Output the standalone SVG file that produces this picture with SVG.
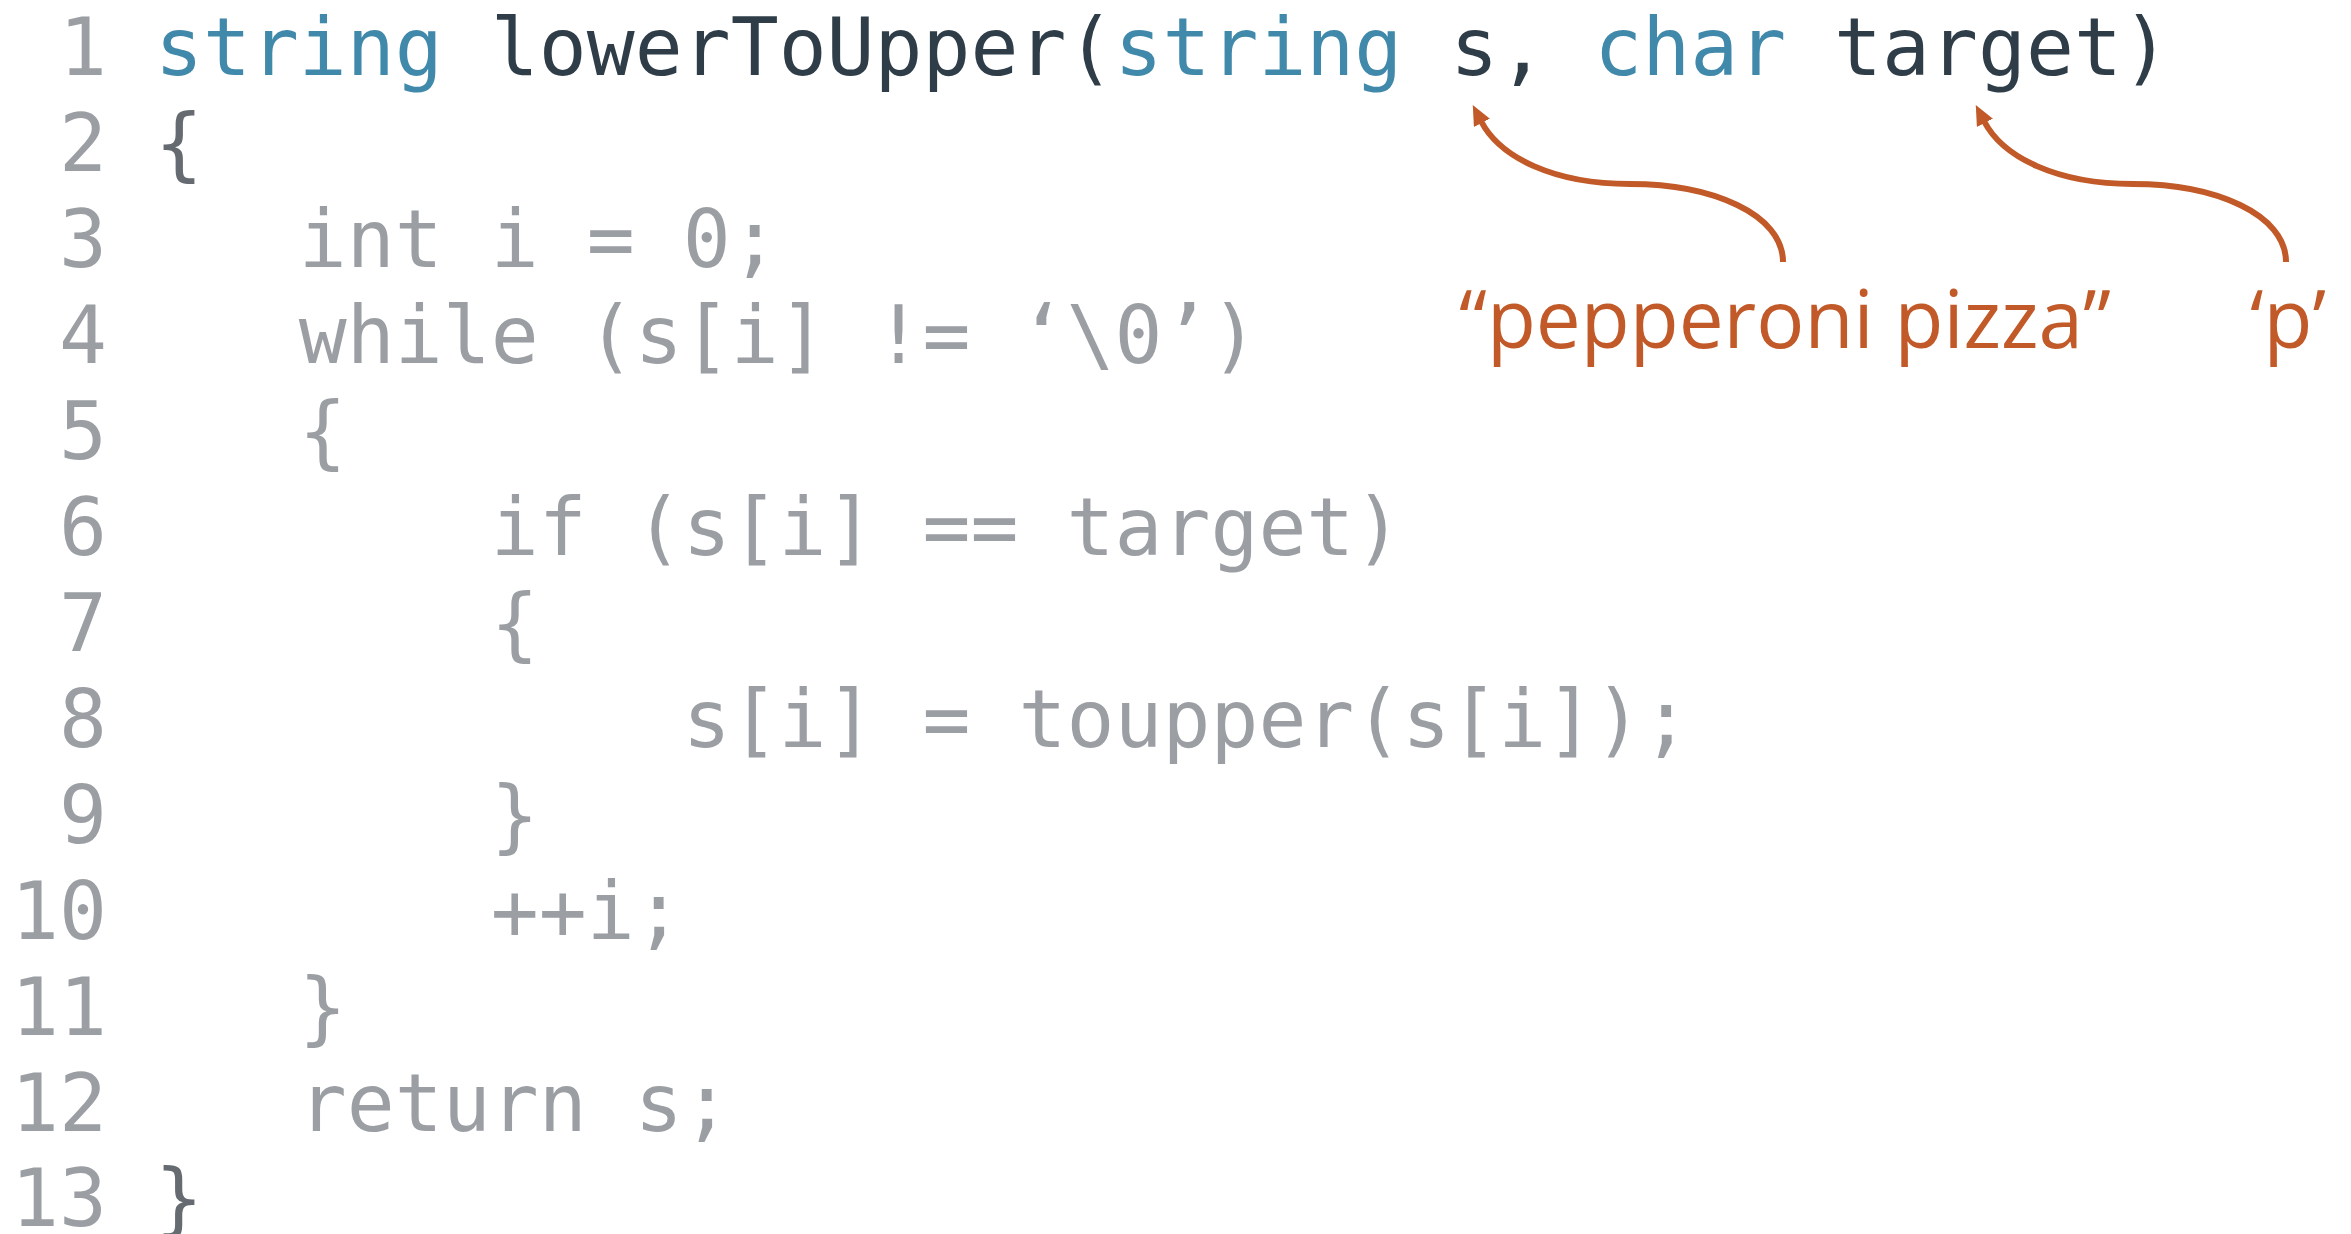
<svg xmlns="http://www.w3.org/2000/svg" width="2351" height="1234" viewBox="0 0 2351 1234">
<style>
.code{font-family:"DejaVu Sans Mono",monospace;font-size:79.7px;fill:#9b9fa4;white-space:pre}
.num{fill:#9b9fa4}
.kw{fill:#4189ab}
.dk{fill:#2f3d48}
.br{fill:#656b71}
.lbl{font-family:"Open Sans","Noto Sans",sans-serif;font-size:80px;fill:#c15a28}
.conn{fill:none;stroke:#c15a28;stroke-width:6;stroke-linecap:butt}
</style>
<defs>
<marker id="ah" viewBox="0 0 20 18" refX="2" refY="9" markerWidth="20" markerHeight="18" markerUnits="userSpaceOnUse" orient="auto">
<path d="M0,0 L20,9 L0,18 z" fill="#c15a28"/>
</marker>
</defs>
<rect width="2351" height="1234" fill="#ffffff"/>
<g id="code">
<g id="line1"><text class="code" x="11" y="75" xml:space="preserve"><tspan class="num"> 1 </tspan><tspan class="kw">string</tspan><tspan class="dk"> lowerToUpper(</tspan><tspan class="kw">string</tspan><tspan class="dk"> s, </tspan><tspan class="kw">char</tspan><tspan class="dk"> target)</tspan></text></g>
<g id="line2"><text class="code" x="11" y="171" xml:space="preserve"><tspan class="num"> 2 </tspan><tspan class="br">{</tspan></text></g>
<g id="line3"><text class="code" x="11" y="267" xml:space="preserve"><tspan class="num"> 3 </tspan>   int i = 0;</text></g>
<g id="line4"><text class="code" x="11" y="363" xml:space="preserve"><tspan class="num"> 4 </tspan>   while (s[i] != ‘\0’)</text></g>
<g id="line5"><text class="code" x="11" y="459" xml:space="preserve"><tspan class="num"> 5 </tspan>   {</text></g>
<g id="line6"><text class="code" x="11" y="555" xml:space="preserve"><tspan class="num"> 6 </tspan>       if (s[i] == target)</text></g>
<g id="line7"><text class="code" x="11" y="651" xml:space="preserve"><tspan class="num"> 7 </tspan>       {</text></g>
<g id="line8"><text class="code" x="11" y="747" xml:space="preserve"><tspan class="num"> 8 </tspan>           s[i] = toupper(s[i]);</text></g>
<g id="line9"><text class="code" x="11" y="843" xml:space="preserve"><tspan class="num"> 9 </tspan>       }</text></g>
<g id="line10"><text class="code" x="11" y="939" xml:space="preserve"><tspan class="num">10 </tspan>       ++i;</text></g>
<g id="line11"><text class="code" x="11" y="1035" xml:space="preserve"><tspan class="num">11 </tspan>   }</text></g>
<g id="line12"><text class="code" x="11" y="1131" xml:space="preserve"><tspan class="num">12 </tspan>   return s;</text></g>
<g id="line13"><text class="code" x="11" y="1226" xml:space="preserve"><tspan class="num">13 </tspan><tspan class="br">}</tspan></text></g>
</g>
<g id="label-s"><text class="lbl" x="1459" y="348">“pepperoni pizza”</text></g>
<g id="label-target"><text class="lbl" x="2250" y="348">‘p’</text></g>
<g id="connectors">
<path class="conn" marker-end="url(#ah)" d="M1783,262 C1783,214 1712,184 1630,184 C1555,184 1500,158 1481,121"/>
<path class="conn" marker-end="url(#ah)" d="M2286,262 C2286,214 2215,184 2133,184 C2058,184 2003,158 1984,121"/>
</g>
</svg>
